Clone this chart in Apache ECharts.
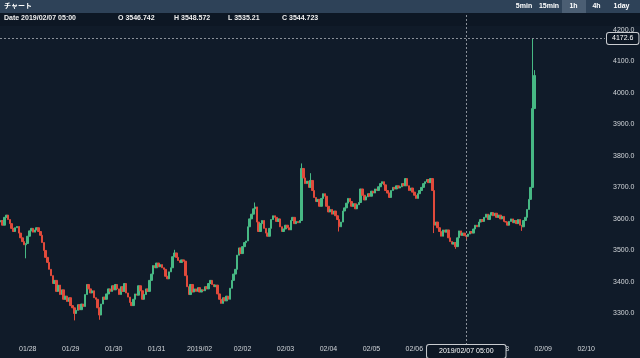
<!DOCTYPE html>
<html><head><meta charset="utf-8">
<script src="https://cdn.jsdelivr.net/npm/echarts@6/dist/echarts.min.js"></script>
<style>html,body{margin:0;padding:0;background:#101b29;}#c{width:640px;height:358px;}</style>
</head><body><div id="c"></div>
<script>
// ---- data ----
const startUTC = [2019, 0, 27, 9];   // first hourly candle: 2019/01/27 09:00
const totalSlots = 338;              // hourly slots on the axis (through 02/10)
const firstOpen = 3590;
const closes = [
3595,3580,3605,3612,3598,3585,3570,3560,3572,3576,3555,3540,3528,3518,3522,3545,3562,3570,3558,3565,
3572,3560,3548,3525,3500,3478,3462,3440,3420,3395,3405,3370,3390,3360,3375,3345,3355,3338,3350,3325,
3318,3300,3310,3328,3312,3330,3322,3360,3392,3378,3365,3372,3350,3345,3318,3295,3330,3352,3345,3362,
3378,3370,3388,3375,3392,3378,3360,3385,3370,3395,3365,3352,3335,3325,3345,3362,3358,3388,3372,3345,
3360,3378,3370,3405,3425,3452,3445,3460,3448,3455,3445,3440,3418,3410,3432,3445,3480,3492,3478,3468,
3462,3470,3466,3420,3385,3360,3392,3368,3378,3370,3382,3368,3375,3372,3385,3378,3395,3405,3392,3385,
3390,3362,3345,3332,3350,3340,3355,3345,3380,3405,3425,3440,3485,3508,3490,3512,3525,3530,3575,3600,
3615,3632,3638,3590,3560,3585,3595,3570,3555,3545,3570,3598,3610,3605,3592,3600,3575,3560,3568,3580,
3572,3565,3595,3605,3585,3592,3588,3595,3760,3730,3712,3720,3700,3722,3690,3668,3655,3662,3640,3665,
3680,3672,3640,3622,3630,3615,3625,3610,3598,3575,3590,3625,3635,3650,3665,3655,3640,3648,3632,3645,
3652,3695,3675,3660,3670,3680,3672,3688,3682,3695,3690,3702,3712,3718,3708,3690,3682,3668,3690,3700,
3695,3705,3698,3702,3712,3705,3728,3705,3690,3698,3685,3675,3665,3680,3690,3700,3712,3718,3725,3715,
3728,3690,3580,3590,3572,3560,3545,3565,3558,3565,3540,3528,3520,3525,3512,3540,3562,3548,3555,3546.742,
3544.723,3552,3560,3555,3568,3580,3575,3590,3598,3592,3605,3615,3598,3612,3620,3610,3618,3605,3612,3600,
3608,3592,3590,3580,3592,3600,3588,3595,3585,3598,3580,3575,3595,3605,3630,3662,3700,3950,4055
];
const wickHighs = [[97,3502],[142,3652],[168,3776],[173,3745],[260,3548.572],[297,4172.6],[298,4072]];
const wickLows  = [[14,3475],[41,3278],[55,3280],[189,3560],[242,3555],[254,3505],[260,3535.21],[291,3562]];
const crossIndex = 260;
const crossPrice = 4172.6;
const headerDate = 'Date 2019/02/07 05:00';
const headerOHLC = ['O 3546.742', 'H 3548.572', 'L 3535.21', 'C 3544.723'];
const intervals = ['5min', '15min', '1h', '4h', '1day'];

// ---- build ----
const pad = n => (n < 10 ? '0' : '') + n;
const categories = [];
for (let i = 0; i < totalSlots; i++) {
  const d = new Date(Date.UTC(startUTC[0], startUTC[1], startUTC[2], startUTC[3]) + i * 3600e3);
  categories.push(d.getUTCFullYear() + '/' + pad(d.getUTCMonth() + 1) + '/' + pad(d.getUTCDate()) + ' ' + pad(d.getUTCHours()) + ':00');
}
const hiMap = Object.fromEntries(wickHighs), loMap = Object.fromEntries(wickLows);
const candles = closes.map((c, i) => {
  const o = i === 0 ? firstOpen : closes[i - 1];
  const h = hiMap[i] !== undefined ? hiMap[i] : Math.max(o, c);
  const l = loMap[i] !== undefined ? loMap[i] : Math.min(o, c);
  return [o, c, l, h];
});

const FONT = '"Liberation Sans", Arial, "Noto Sans CJK JP", sans-serif';
const UP = '#47b884', DOWN = '#e04a3b';
const chart = echarts.init(document.getElementById('c'), null, {renderer: 'canvas'});

const hdrX = [118, 174, 228, 282];
const btnX = [524, 549, 573.5, 596.5, 621.5];
const graphics = [
  {type: 'rect', z: -10, shape: {x: 0, y: 0, width: 640, height: 13}, style: {fill: '#2e4258'}},
  {type: 'rect', z: -10, shape: {x: 0, y: 13, width: 640, height: 13}, style: {fill: '#0d1724'}},
  {type: 'rect', z: -9, shape: {x: 562, y: 0, width: 24, height: 13}, style: {fill: '#4b5e73'}},
  {type: 'text', z: 10, x: 4, y: 6.5, style: {text: 'チャート', fill: '#ffffff', font: 'bold 7px ' + FONT, verticalAlign: 'middle'}},
  {type: 'text', z: 10, x: 4, y: 18.5, style: {text: headerDate, fill: '#f0f0f0', font: 'bold 7px ' + FONT, verticalAlign: 'middle'}}
];
headerOHLC.forEach((t, i) => graphics.push({type: 'text', z: 10, x: hdrX[i], y: 18.5,
  style: {text: t, fill: '#f0f0f0', font: 'bold 7px ' + FONT, verticalAlign: 'middle'}}));
intervals.forEach((t, i) => graphics.push({type: 'text', z: 10, x: btnX[i], y: 6.5,
  style: {text: t, fill: '#ffffff', font: 'bold 7px ' + FONT, align: 'center', verticalAlign: 'middle'}}));

chart.setOption({
  backgroundColor: '#101b29',
  animation: false,
  textStyle: {fontFamily: FONT},
  graphic: graphics,
  axisPointer: {triggerOn: 'none'},
  grid: {left: 0, right: 35, top: 14, bottom: 13},
  xAxis: {
    type: 'category', data: categories, boundaryGap: true,
    axisLine: {show: false}, axisTick: {show: false}, splitLine: {show: false},
    axisLabel: {
      color: '#d2d6da', fontSize: 7, margin: 1,
      interval: (idx, val) => val.slice(11, 13) === '00',
      formatter: val => val.slice(8, 10) === '01' ? val.slice(0, 7) : val.slice(5, 10)
    },
    axisPointer: {
      show: true, status: 'show', value: crossIndex, type: 'line', triggerTooltip: false,
      lineStyle: {color: '#8a9099', type: [2, 2], width: 1},
      label: {show: true, margin: 1, fontSize: 7, color: '#ffffff', backgroundColor: '#0d1724',
        borderColor: '#c9ccd0', borderWidth: 1, borderRadius: 2, padding: [3, 12, 3, 12],
        formatter: p => typeof p.value === 'number' ? categories[p.value] : p.value}
    }
  },
  yAxis: {
    type: 'value', position: 'right', scale: true, min: 3200, max: 4250, interval: 100,
    axisLine: {show: false}, axisTick: {show: false}, splitLine: {show: false},
    axisLabel: {color: '#d2d6da', fontSize: 7, margin: 8, showMinLabel: false, showMaxLabel: false,
      formatter: v => v.toFixed(1)},
    axisPointer: {
      show: true, status: 'show', value: crossPrice, type: 'line', triggerTooltip: false,
      lineStyle: {color: '#8a9099', type: [2, 2], width: 1},
      label: {show: true, margin: 2, fontSize: 7, color: '#ffffff', backgroundColor: '#0d1724',
        borderColor: '#c9ccd0', borderWidth: 1, borderRadius: 2, padding: [2, 5, 2, 5],
        formatter: p => Number(p.value).toFixed(1)}
    }
  },
  series: [{
    type: 'candlestick', data: candles, barWidth: 2,
    itemStyle: {color: UP, color0: DOWN, borderColor: UP, borderColor0: DOWN, borderWidth: 1}
  }]
});
</script></body></html>
